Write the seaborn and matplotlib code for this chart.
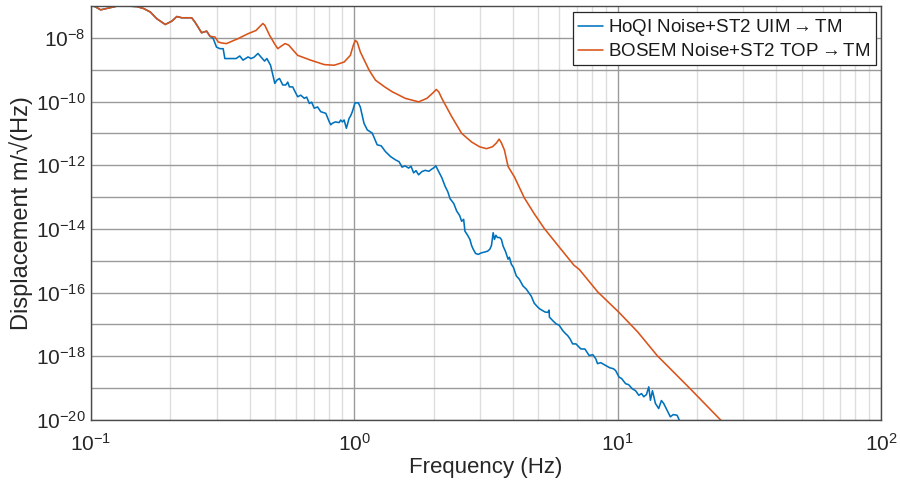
import numpy as np
import pandas as pd
import matplotlib
matplotlib.use("Agg")
import matplotlib.pyplot as plt
import matplotlib.ticker as mticker
import seaborn as sns

# BOSEM noise + ST2 TOP -> TM (frequency in Hz, displacement in m/sqrt(Hz))
bosem_freq = [0.100, 0.1036, 0.1088, 0.1232, 0.1276, 0.1496, 0.1585, 0.1680, 0.1778, 0.1914,
              0.2028, 0.2118, 0.2212, 0.2412, 0.2484, 0.2630, 0.2748, 0.2830, 0.2958, 0.3043,
              0.3130, 0.3268, 0.3618, 0.3948, 0.4230, 0.4418, 0.4496, 0.4575, 0.4766, 0.4990,
              0.5122, 0.5257, 0.5458, 0.5635, 0.6094, 0.6823, 0.7687, 0.8383, 0.9145, 0.9658,
              0.9913, 1.0087, 1.0264, 1.0535, 1.0907, 1.1391, 1.2035, 1.3092, 1.3908, 1.5615,
              1.7545, 1.8861, 1.9868, 2.0481, 2.0935, 2.1487, 2.3436, 2.5559, 2.7874, 2.9889,
              3.1768, 3.3466, 3.4648, 3.5468, 3.6186, 3.7140, 3.8355, 4.0503, 4.4180, 4.8195,
              5.2573, 6.0947, 6.8234, 7.1450, 8.4048, 10.114, 11.901, 14.118, 18.864, 24.47,
              26.8]
bosem_exp = [-6.98, -7.02, -7.12, -7.02, -6.98, -7.02, -7.08, -7.19, -7.40, -7.58,
             -7.475, -7.33, -7.37, -7.37, -7.51, -7.84, -7.79, -7.95, -7.975, -8.13,
             -8.16, -8.18, -8.025, -7.87, -7.77, -7.61, -7.55, -7.61, -7.92, -8.20,
             -8.34, -8.27, -8.18, -8.23, -8.55, -8.70, -8.84, -8.86, -8.76, -8.55,
             -8.23, -8.08, -8.14, -8.44, -8.70, -9.02, -9.33, -9.55, -9.69, -9.90,
             -10.01, -9.90, -9.73, -9.62, -9.70, -9.90, -10.475, -11.00, -11.27, -11.42,
             -11.48, -11.42, -11.30, -11.18, -11.30, -11.52, -12.04, -12.36, -13.02, -13.52,
             -13.98, -14.64, -15.14, -15.27, -15.98, -16.62, -17.23, -17.975, -19.02, -19.98,
             -20.3]

# HoQI noise + ST2 UIM -> TM
hoqi_freq = [0.100, 0.1036, 0.1088, 0.1232, 0.1276, 0.1496, 0.1585, 0.1680, 0.1778, 0.1914,
             0.2028, 0.2118, 0.2212, 0.2412, 0.2484, 0.2630, 0.2748, 0.2830,
             0.2911, 0.2996, 0.3087, 0.3176, 0.3223, 0.3367, 0.3556, 0.3672, 0.3779, 0.3948,
             0.4052, 0.4159, 0.4305, 0.4418, 0.4562, 0.4654, 0.4806, 0.4903, 0.4990, 0.5078,
             0.5197, 0.5349, 0.5489, 0.5586, 0.5669, 0.5834, 0.5937, 0.6094, 0.6256, 0.6460,
             0.6591, 0.6746, 0.6882, 0.7045, 0.7250, 0.7459, 0.7792, 0.8026, 0.8139, 0.8259,
             0.8477, 0.8756, 0.8878, 0.9010, 0.9144, 0.9329, 0.9550, 0.9683, 0.9827, 1.0061,
             1.0354, 1.0535, 1.0879, 1.1197, 1.1693, 1.1899, 1.2212, 1.2644, 1.3123, 1.3707,
             1.4318, 1.4789, 1.5178, 1.5578, 1.6085, 1.6411, 1.6801, 1.7140, 1.7545, 1.8055,
             1.8583, 1.9190, 1.9696, 2.0042, 2.0394, 2.0877, 2.1487, 2.2113, 2.2636, 2.3093,
             2.3849, 2.4477, 2.5119, 2.5559, 2.6010, 2.6303, 2.6929, 2.7474, 2.7879, 2.8293,
             2.8866, 2.9552, 3.0409, 3.1296, 3.2039, 3.2681, 3.3173, 3.3666, 3.4047, 3.4490,
             3.4944, 3.5651, 3.6184, 3.6722, 3.7465, 3.8355, 3.8792, 3.9469, 4.0165, 4.1223,
             4.2308, 4.3694, 4.4964, 4.6962, 4.8195, 4.9774, 5.0780, 5.1977, 5.3030, 5.4291,
             5.4906, 5.5058, 5.6850, 5.8345, 5.9894, 6.1841, 6.3096, 6.4595, 6.5903, 6.7466,
             6.9424, 7.2514, 7.5082, 7.7937, 8.0482, 8.2603, 8.3829, 8.6262, 9.0102, 9.3296,
             9.6352, 9.8286, 10.114, 10.354, 10.720, 11.003, 11.363, 11.693, 12.034, 12.319,
             12.566, 12.865, 13.125, 13.319, 13.554, 13.911, 14.315, 14.655, 14.953, 15.400,
             15.849, 16.266, 16.800, 17.035, 17.440]
hoqi_exp = [-6.98, -7.02, -7.12, -7.02, -6.98, -7.02, -7.08, -7.19, -7.40, -7.58,
            -7.475, -7.33, -7.37, -7.37, -7.51, -7.84, -7.79, -7.95,
            -8.02, -8.29, -8.34, -8.34, -8.65, -8.65, -8.65, -8.57, -8.70, -8.60,
            -8.65, -8.61, -8.49, -8.60, -8.73, -8.65, -8.86, -9.17, -9.43, -9.33,
            -9.275, -9.48, -9.48, -9.39, -9.54, -9.54, -9.67, -9.85, -9.80, -9.90,
            -9.86, -10.06, -10.02, -10.21, -10.17, -10.32, -10.37, -10.63, -10.73, -10.68,
            -10.64, -10.66, -10.58, -10.64, -10.58, -10.84, -10.53, -10.45, -10.32, -10.04,
            -10.04, -10.17, -10.68, -10.89, -10.99, -11.14, -11.36, -11.39, -11.57, -11.725,
            -11.83, -11.89, -12.06, -12.02, -12.09, -12.03, -12.24, -12.17, -12.30, -12.20,
            -12.16, -12.19, -12.12, -12.08, -12.02, -12.19, -12.39, -12.66, -12.83, -13.05,
            -13.20, -13.44, -13.58, -13.76, -13.70, -14.07, -14.20, -14.33, -14.52, -14.64,
            -14.77, -14.80, -14.75, -14.725, -14.70, -14.64, -14.52, -14.12, -14.33, -14.20,
            -14.27, -14.27, -14.33, -14.54, -14.70, -14.95, -14.89, -15.11, -15.20, -15.475,
            -15.58, -15.79, -15.89, -16.11, -16.33, -16.46, -16.52, -16.57, -16.61, -16.62,
            -16.55, -16.77, -16.89, -16.98, -17.02, -17.19, -17.27, -17.35, -17.45, -17.61,
            -17.61, -17.77, -17.77, -17.975, -17.95, -18.08, -18.23, -18.20, -18.29, -18.36,
            -18.39, -18.45, -18.65, -18.70, -18.86, -18.89, -19.02, -19.08, -19.225, -19.17,
            -19.27, -19.20, -18.96, -19.38, -19.08, -19.48, -19.64, -19.39, -19.48, -19.69,
            -19.90, -19.83, -19.85, -19.95, -20.20]

series_labels = ["HoQI Noise+ST2 UIM$\\rightarrow$TM", "BOSEM Noise+ST2 TOP$\\rightarrow$TM"]
series_colors = ["#0072BD", "#D95319"]

df = pd.concat([
    pd.DataFrame({"Frequency": hoqi_freq, "ASD": np.power(10.0, hoqi_exp),
                  "Series": series_labels[0]}),
    pd.DataFrame({"Frequency": bosem_freq, "ASD": np.power(10.0, bosem_exp),
                  "Series": series_labels[1]}),
], ignore_index=True)

sns.set_theme(style="white")
plt.rcParams["font.family"] = ["Liberation Sans", "DejaVu Sans"]
plt.rcParams["mathtext.fontset"] = "custom"
plt.rcParams["mathtext.rm"] = "Liberation Sans"
plt.rcParams["mathtext.it"] = "Liberation Sans:italic"
plt.rcParams["mathtext.bf"] = "Liberation Sans:bold"

fig = plt.figure(figsize=(9.0, 4.88), dpi=100)
ax = fig.add_axes([91 / 900, 1 - 420 / 488, 790 / 900, 414 / 488])

sns.lineplot(data=df, x="Frequency", y="ASD", hue="Series",
             palette=dict(zip(series_labels, series_colors)),
             sort=False, estimator=None, linewidth=1.15, ax=ax)

ax.set_xscale("log")
ax.set_yscale("log")
ax.set_xlim(0.1, 100)
ax.set_ylim(1e-20, 1e-7)

# x: decades labelled, 2..9 as minor grid
ax.xaxis.set_major_locator(mticker.LogLocator(base=10, numticks=10))
ax.xaxis.set_minor_locator(mticker.LogLocator(base=10, subs=np.arange(2, 10), numticks=20))
ax.xaxis.set_major_formatter(mticker.LogFormatterSciNotation())
ax.xaxis.set_minor_formatter(mticker.NullFormatter())

# y: labels every other decade, grid line on every decade
ax.yaxis.set_major_locator(mticker.FixedLocator([10.0 ** k for k in range(-20, -7, 2)]))
ax.yaxis.set_minor_locator(mticker.FixedLocator([10.0 ** k for k in range(-19, -7, 2)]))
ax.yaxis.set_major_formatter(mticker.LogFormatterSciNotation())
ax.yaxis.set_minor_formatter(mticker.NullFormatter())

ax.grid(True, which="major", axis="both", color="#9a9a9a", linewidth=1.0)
ax.grid(True, which="minor", axis="y", color="#9a9a9a", linewidth=1.0)
ax.grid(True, which="minor", axis="x", color="#dedede", linewidth=1.0)
ax.set_axisbelow(True)

for sp in ax.spines.values():
    sp.set_visible(True)
    sp.set_color("#4a4a4a")
    sp.set_linewidth(1.0)

ax.tick_params(axis="both", which="both", direction="in", length=0,
               labelsize=15, colors="#262626")
ax.tick_params(axis="x", pad=9)
ax.tick_params(axis="y", pad=4)

ax.set_xlabel("Frequency (Hz)", fontsize=16, color="#262626", labelpad=2)
ax.set_ylabel("Displacement m/\u221a(Hz)", fontsize=17, color="#262626", labelpad=2)

leg = ax.legend(loc="upper right", bbox_to_anchor=((876 - 91) / 790, (420 - 12) / 414),
                fontsize=13.5, frameon=True, fancybox=False, framealpha=1.0,
                edgecolor="#262626", handlelength=1.3, handletextpad=0.3,
                borderpad=0.28, labelspacing=0.25, borderaxespad=0.0)
leg.get_frame().set_linewidth(0.9)
for t in leg.get_texts():
    t.set_color("#1a1a1a")

fig.savefig("out.png", dpi=100, facecolor="white")
